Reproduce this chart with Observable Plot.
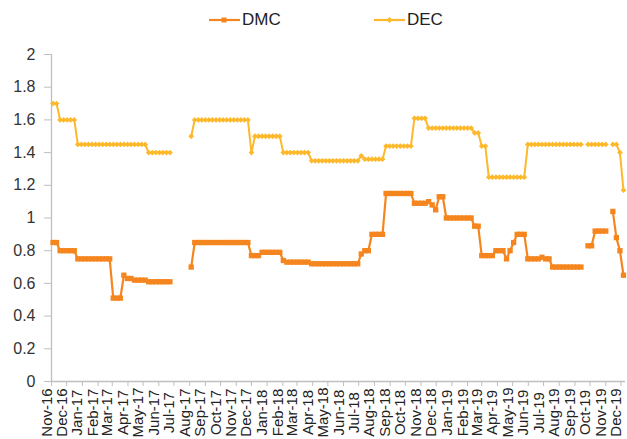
<!DOCTYPE html>
<html>
<head>
<meta charset="utf-8">
<script src="https://cdn.jsdelivr.net/npm/d3@7"></script>
<script src="https://cdn.jsdelivr.net/npm/@observablehq/plot@0.6"></script>
<style>
  html, body { margin: 0; padding: 0; background: #fff; }
  body { width: 627px; height: 439px; overflow: hidden; font-family: "Liberation Sans", Arial, sans-serif; }
  #legend { position: relative; height: 40px; width: 627px; }
  .item { position: absolute; top: 10px; height: 20px; display: flex; align-items: center; font-size: 17px; color: #222; }
  .swatch { width: 31px; height: 20px; margin-right: 2px; }
</style>
</head>
<body>
<div id="legend"></div>
<div id="chart"></div>
<script>
// ---- data ----
const startDate = "2016-11-04";   // first weekly observation
const seriesNames = ["DMC", "DEC"];
const seriesColors = ["#F5861F", "#FDB92B"];
const yTicks = [0, 0.2, 0.4, 0.6, 0.8, 1, 1.2, 1.4, 1.6, 1.8, 2];

const dmc = [
  0.85, 0.85,
  0.80, 0.80, 0.80, 0.80, 0.80,
  0.75, 0.75, 0.75, 0.75, 0.75, 0.75, 0.75, 0.75, 0.75, 0.75,
  0.51, 0.51, 0.51,
  0.65,
  0.63, 0.63,
  0.62, 0.62, 0.62, 0.62,
  0.61, 0.61, 0.61, 0.61, 0.61, 0.61, 0.61,
  null, null, null, null, null,
  0.70,
  0.85, 0.85, 0.85, 0.85, 0.85, 0.85, 0.85, 0.85, 0.85, 0.85, 0.85, 0.85, 0.85, 0.85, 0.85, 0.85,
  0.77, 0.77, 0.77,
  0.79, 0.79, 0.79, 0.79, 0.79, 0.79,
  0.74,
  0.73, 0.73, 0.73, 0.73, 0.73, 0.73, 0.73,
  0.72, 0.72, 0.72, 0.72, 0.72, 0.72, 0.72, 0.72, 0.72, 0.72, 0.72, 0.72, 0.72, 0.72,
  0.78,
  0.80, 0.80,
  0.90, 0.90, 0.90, 0.90,
  1.15, 1.15, 1.15, 1.15, 1.15, 1.15, 1.15, 1.15,
  1.09, 1.09, 1.09, 1.09,
  1.10, 1.08, 1.05,
  1.13, 1.13,
  1.00, 1.00, 1.00, 1.00, 1.00, 1.00, 1.00, 1.00,
  0.95, 0.95,
  0.77, 0.77, 0.77, 0.77,
  0.80, 0.80, 0.80,
  0.75, 0.80, 0.85,
  0.90, 0.90, 0.90,
  0.75, 0.75, 0.75, 0.75,
  0.76,
  0.75, 0.75,
  0.70, 0.70, 0.70, 0.70, 0.70, 0.70, 0.70, 0.70, 0.70,
  null,
  0.83, 0.83,
  0.92, 0.92, 0.92, 0.92,
  null,
  1.04, 0.88, 0.80, 0.65
];

const dec = [
  1.70, 1.70,
  1.60, 1.60, 1.60, 1.60, 1.60,
  1.45, 1.45, 1.45, 1.45, 1.45, 1.45, 1.45, 1.45, 1.45, 1.45,
  1.45, 1.45, 1.45, 1.45, 1.45, 1.45, 1.45, 1.45, 1.45, 1.45,
  1.40, 1.40, 1.40, 1.40, 1.40, 1.40, 1.40,
  null, null, null, null, null,
  1.50,
  1.60, 1.60, 1.60, 1.60, 1.60, 1.60, 1.60, 1.60, 1.60, 1.60, 1.60, 1.60, 1.60, 1.60, 1.60, 1.60,
  1.40,
  1.50, 1.50, 1.50, 1.50, 1.50, 1.50, 1.50, 1.50,
  1.40, 1.40, 1.40, 1.40, 1.40, 1.40, 1.40, 1.40,
  1.35, 1.35, 1.35, 1.35, 1.35, 1.35, 1.35, 1.35, 1.35, 1.35, 1.35, 1.35, 1.35, 1.35,
  1.38,
  1.36, 1.36, 1.36, 1.36, 1.36, 1.36,
  1.44, 1.44, 1.44, 1.44, 1.44, 1.44, 1.44, 1.44,
  1.61, 1.61, 1.61, 1.61,
  1.55, 1.55, 1.55, 1.55, 1.55, 1.55, 1.55, 1.55, 1.55, 1.55, 1.55, 1.55, 1.55,
  1.52, 1.52,
  1.44, 1.44,
  1.25, 1.25, 1.25, 1.25, 1.25, 1.25, 1.25, 1.25, 1.25, 1.25, 1.25,
  1.45, 1.45, 1.45, 1.45, 1.45, 1.45, 1.45, 1.45, 1.45, 1.45, 1.45, 1.45, 1.45, 1.45, 1.45, 1.45,
  null,
  1.45, 1.45, 1.45, 1.45, 1.45, 1.45,
  null,
  1.45, 1.45, 1.40, 1.17
];

// ---- build table ----
const t0 = new Date(startDate + "T00:00:00Z");
const rows = dmc.map((v, i) => ({
  date: d3.utcDay.offset(t0, 7 * i),
  DMC: v,
  DEC: dec[i]
}));
const months = d3.utcMonth.range(new Date("2016-11-01T00:00:00Z"), new Date("2019-12-02T00:00:00Z"));
const fmt = d3.utcFormat("%b-%y");
const gray = "#BFBFBF";
const font = "'Liberation Sans', Arial, sans-serif";

// ---- legend (HTML above the svg) ----
const legend = document.getElementById("legend");
const legendPos = [209, 374];
seriesNames.forEach((name, k) => {
  const item = document.createElement("div");
  item.className = "item";
  item.style.left = legendPos[k] + "px";
  const c = seriesColors[k];
  const marker = k === 0
    ? `<rect x="12.5" y="7.5" width="5" height="5" fill="${c}"/>`
    : `<path d="M15.5,7 L18.5,10 L15.5,13 L12.5,10 Z" fill="${c}"/>`;
  item.innerHTML = `<svg class="swatch" viewBox="0 0 31 20"><line x1="0" x2="31" y1="10" y2="10" stroke="${c}" stroke-width="2.2"/>${marker}</svg><span>${name}</span>`;
  legend.appendChild(item);
});

// ---- chart ----
const chart = Plot.plot({
  width: 627,
  height: 399,
  marginLeft: 51,
  marginRight: 2,
  marginTop: 14,
  marginBottom: 58,
  style: { fontFamily: font, background: "#fff", overflow: "visible" },
  x: { type: "utc", domain: [new Date("2016-11-01T00:00:00Z"), new Date("2019-12-10T00:00:00Z")] },
  y: { domain: [0, 2] },
  marks: [
    Plot.axisY({ ticks: yTicks, tickSize: 7, tickPadding: 9, stroke: gray, fill: "#333", fontSize: 16, label: null, tickFormat: d => String(d) }),
    Plot.axisX({ ticks: months, tickSize: 5, stroke: gray, tickFormat: () => "", label: null }),
    Plot.text(months, { x: d => d, frameAnchor: "bottom", text: d => fmt(d), rotate: -90, textAnchor: "middle", dy: 31, fontSize: 15, fill: "#222" }),
    Plot.ruleY([0], { stroke: gray, strokeWidth: 1.3 }),
    Plot.ruleX([new Date("2016-11-01T00:00:00Z")], { y1: 0, y2: 2, stroke: gray, strokeWidth: 1.3 }),
    Plot.line(rows, { x: "date", y: "DMC", stroke: seriesColors[0], strokeWidth: 2.2 }),
    Plot.dot(rows, { x: "date", y: "DMC", symbol: "square", r: 3, fill: seriesColors[0], stroke: "none" }),
    Plot.line(rows, { x: "date", y: "DEC", stroke: seriesColors[1], strokeWidth: 2 }),
    Plot.dot(rows, { x: "date", y: "DEC", symbol: "diamond2", r: 2.6, fill: seriesColors[1], stroke: "none" })
  ]
});
document.getElementById("chart").appendChild(chart);
</script>
</body>
</html>
